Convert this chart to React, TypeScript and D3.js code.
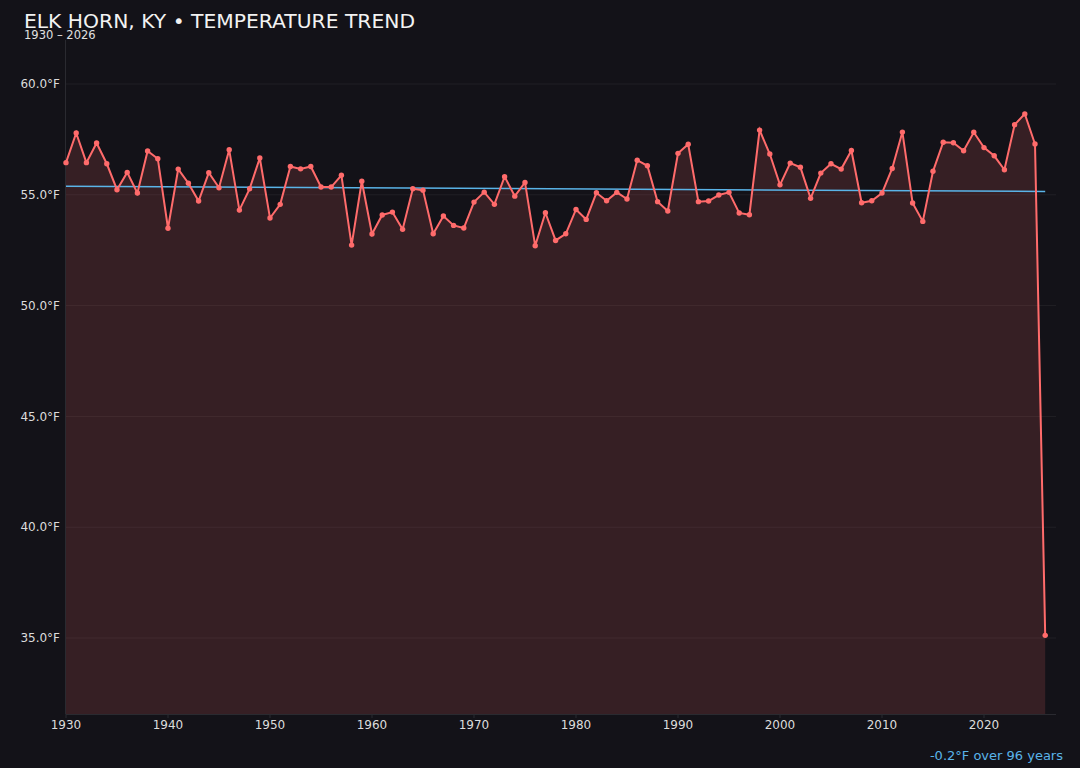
import React from "react";
import * as d3 from "d3";

const years: number[] = d3.range(1930, 2027);
const temps: number[] = [
  56.45, 57.79, 56.45, 57.34, 56.4, 55.23, 56.01, 55.08, 56.98, 56.63,
  53.49, 56.16, 55.52, 54.72, 56.0, 55.32, 57.03, 54.31, 55.27, 56.66,
  53.95, 54.57, 56.28, 56.17, 56.28, 55.35, 55.35, 55.88, 52.73, 55.61,
  53.23, 54.09, 54.22, 53.44, 55.27, 55.21, 53.24, 54.04, 53.62, 53.5,
  54.67, 55.12, 54.57, 55.82, 54.94, 55.56, 52.7, 54.19, 52.94, 53.24,
  54.34, 53.89, 55.09, 54.73, 55.11, 54.81, 56.56, 56.31, 54.69, 54.27,
  56.87, 57.28, 54.69, 54.72, 54.99, 55.11, 54.18, 54.1, 57.92, 56.84,
  55.45, 56.43, 56.24, 54.84, 55.98, 56.4, 56.16, 57.0, 54.64, 54.73,
  55.08, 56.19, 57.83, 54.63, 53.8, 56.06, 57.37, 57.35, 56.99, 57.82,
  57.13, 56.76, 56.13, 58.16, 58.65, 57.29, 35.12,
];
const yTicks: number[] = [35, 40, 45, 50, 55, 60];
const xTicks: number[] = [1930, 1940, 1950, 1960, 1970, 1980, 1990, 2000, 2010, 2020];

const W = 1080;
const H = 768;
const left = 66;
const right = 1056;
const top = 40;
const bottom = 714;

export default function App() {
  const x = d3.scaleLinear().domain([1930, 2026]).range([66, 1045.2]);
  const y = d3.scaleLinear().domain([35, 60]).range([638, 84]);
  const data = years.map((yr, i) => ({ yr, v: temps[i] }));

  const line = d3
    .line<{ yr: number; v: number }>()
    .x((d) => x(d.yr))
    .y((d) => y(d.v));
  const area = d3
    .area<{ yr: number; v: number }>()
    .x((d) => x(d.yr))
    .y0(bottom)
    .y1((d) => y(d.v));

  // least-squares trend
  const n = data.length;
  const mx = d3.mean(years) as number;
  const my = d3.mean(temps) as number;
  let sxy = 0;
  let sxx = 0;
  data.forEach((d) => {
    sxy += (d.yr - mx) * (d.v - my);
    sxx += (d.yr - mx) * (d.yr - mx);
  });
  const slope = sxy / sxx;
  const icpt = my - slope * mx;
  const y0 = years[0];
  const y1 = years[n - 1];
  const change = slope * (y1 - y0);

  const font = "DejaVu Sans, sans-serif";

  return (
    <svg
      width={W}
      height={H}
      style={{ position: "fixed", left: 0, top: 0, display: "block" }}
    >
      <rect x={0} y={0} width={W} height={H} fill="#131218" />
      <text x={24} y={27.5} fill="#f2f2f2" fontFamily={font} fontSize={20.3}>
        ELK HORN, KY • TEMPERATURE TREND
      </text>
      <text x={24} y={39} fill="#e0e0e0" fontFamily={font} fontSize={11.5}>
        1930 – 2026
      </text>
      {yTicks.map((t) => (
        <g key={t}>
          <line x1={left} x2={right} y1={y(t)} y2={y(t)} stroke="#ffffff" strokeOpacity={0.06} />
          <text
            x={60}
            y={y(t)}
            dy="0.35em"
            textAnchor="end"
            fill="#dcdcdc"
            fontFamily={font}
            fontSize={12}
          >
            {t.toFixed(1)}°F
          </text>
        </g>
      ))}
      <path d={area(data) as string} fill="#ff6b6b" fillOpacity={0.15} />
      <line x1={left - 0.5} x2={left - 0.5} y1={top} y2={bottom} stroke="#2a2a30" />
      <line x1={left} x2={right} y1={bottom + 0.5} y2={bottom + 0.5} stroke="#2a2a30" />
      {xTicks.map((t) => (
        <g key={t}>
          <line x1={x(t)} x2={x(t)} y1={bottom} y2={bottom + 4} stroke="#2a2a30" />
          <text
            x={x(t)}
            y={725}
            dy="0.35em"
            textAnchor="middle"
            fill="#dcdcdc"
            fontFamily={font}
            fontSize={12}
          >
            {t}
          </text>
        </g>
      ))}
      <line
        x1={x(y0)}
        x2={x(y1)}
        y1={y(icpt + slope * y0)}
        y2={y(icpt + slope * y1)}
        stroke="#5ab4e8"
        strokeWidth={1.5}
      />
      <path d={line(data) as string} fill="none" stroke="#ff6b6b" strokeWidth={2} />
      {data.map((d) => (
        <circle key={d.yr} cx={x(d.yr)} cy={y(d.v)} r={2.7} fill="#ff6b6b" />
      ))}
      <text
        x={1063}
        y={760}
        textAnchor="end"
        fill="#5ab4e8"
        fontFamily={font}
        fontSize={13}
      >
        {(change >= 0 ? "+" : "") + change.toFixed(1)}°F over {y1 - y0} years
      </text>
    </svg>
  );
}
